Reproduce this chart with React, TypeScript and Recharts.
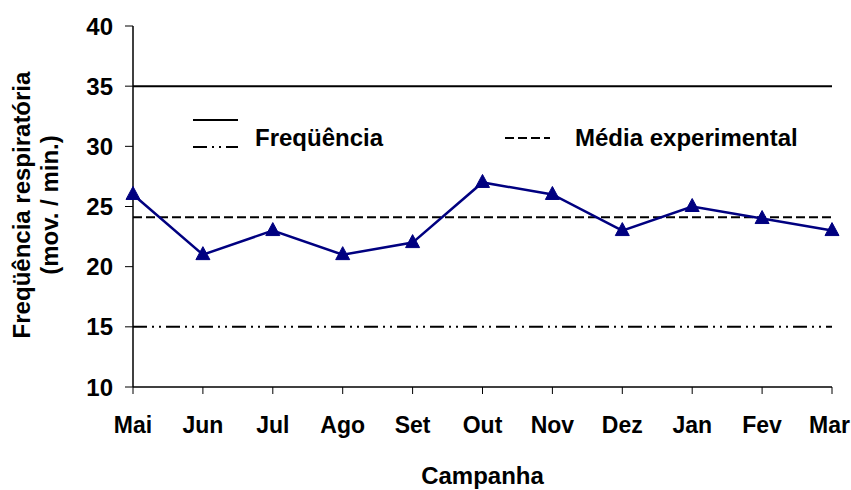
import React from "react";
import {
  LineChart,
  Line,
  XAxis,
  YAxis,
  ReferenceLine,
  Label,
  Customized,
} from "recharts";

const meses = ["Mai", "Jun", "Jul", "Ago", "Set", "Out", "Nov", "Dez", "Jan", "Fev", "Mar"];
const frequencia = [26, 21, 23, 21, 22, 27, 26, 23, 25, 24, 23];
const yTicks = [10, 15, 20, 25, 30, 35, 40];

// limites da frequência e média experimental
const limiteSuperior = 35;
const limiteInferior = 15;
const mediaExperimental = 24.1;

const data = meses.map((mes, i) => ({ mes, freq: frequencia[i] }));

const FONT = "'Liberation Sans', Arial, Helvetica, sans-serif";
const FS = 24;
const DASH_DOT = "14 5 2 5 2 5";
const DASHED = "9 4";

const Triangle = (props: any) => {
  const { cx, cy, index } = props;
  if (cx == null || cy == null) return null;
  return (
    <path
      key={`tri-${index}`}
      d={`M${cx},${cy - 8} L${cx + 7},${cy + 5} L${cx - 7},${cy + 5} Z`}
      fill="#000080"
      stroke="#000080"
    />
  );
};

// último rótulo encostado na borda direita, como no original
const MesTick = (props: any) => {
  const { x, y, payload, index } = props;
  const last = index === meses.length - 1;
  return (
    <text
      x={last ? 850 : x}
      y={y}
      dy="0.71em"
      textAnchor={last ? "end" : "middle"}
      fill="#000"
      fontFamily={FONT}
      fontWeight="bold"
      fontSize={23}
    >
      {payload.value}
    </text>
  );
};

const YLabel = () => (
  <g fontFamily={FONT} fontWeight="bold" fontSize={FS} fill="#000">
    <text x={30} y={205} textAnchor="middle" transform="rotate(-90, 30, 205)">
      Freqüência respiratória
    </text>
    <text x={58} y={205} textAnchor="middle" transform="rotate(-90, 58, 205)">
      (mov. / min.)
    </text>
  </g>
);

const LegendBox = () => (
  <g fontFamily={FONT} fontWeight="bold" fontSize={FS} fill="#000">
    <line x1={193} x2={238} y1={120} y2={120} stroke="#000" strokeWidth={2} />
    <line x1={193} x2={238} y1={147} y2={147} stroke="#000" strokeWidth={2} strokeDasharray={DASH_DOT} />
    <text x={255} y={146}>Freqüência</text>
    <line x1={505} x2={550} y1={138} y2={138} stroke="#000" strokeWidth={2} strokeDasharray={DASHED} />
    <text x={575} y={146}>Média experimental</text>
  </g>
);

export default function App() {
  return (
    <div style={{ position: "absolute", left: 0, top: 0, background: "#fff" }}>
      <LineChart
        width={851}
        height={490}
        data={data}
        margin={{ top: 26, right: 19, left: 0, bottom: 0 }}
      >
        <XAxis
          dataKey="mes"
          height={103}
          axisLine={{ stroke: "#000", strokeWidth: 1.5 }}
          tickLine={{ stroke: "#000" }}
          tickSize={7}
          tickMargin={23}
          interval={0}
          tick={<MesTick />}
        >
          <Label
            value="Campanha"
            position="insideBottom"
            offset={6}
            style={{ fill: "#000", fontFamily: FONT, fontWeight: "bold", fontSize: FS }}
          />
        </XAxis>
        <YAxis
          width={133}
          domain={[10, 40]}
          ticks={yTicks}
          interval={0}
          axisLine={{ stroke: "#000", strokeWidth: 1.5 }}
          tickLine={{ stroke: "#000" }}
          tickSize={8}
          tickMargin={12}
          tick={{ fill: "#000", fontFamily: FONT, fontWeight: "bold", fontSize: FS }}
          label={<YLabel />}
        />
        <ReferenceLine y={limiteSuperior} stroke="#000" strokeWidth={2} />
        <ReferenceLine y={mediaExperimental} stroke="#000" strokeWidth={2} strokeDasharray={DASHED} />
        <ReferenceLine y={limiteInferior} stroke="#000" strokeWidth={2} strokeDasharray={DASH_DOT} />
        <Line
          dataKey="freq"
          stroke="#000080"
          strokeWidth={2.5}
          dot={Triangle}
          activeDot={false}
          isAnimationActive={false}
        />
        <Customized component={LegendBox} />
      </LineChart>
    </div>
  );
}
